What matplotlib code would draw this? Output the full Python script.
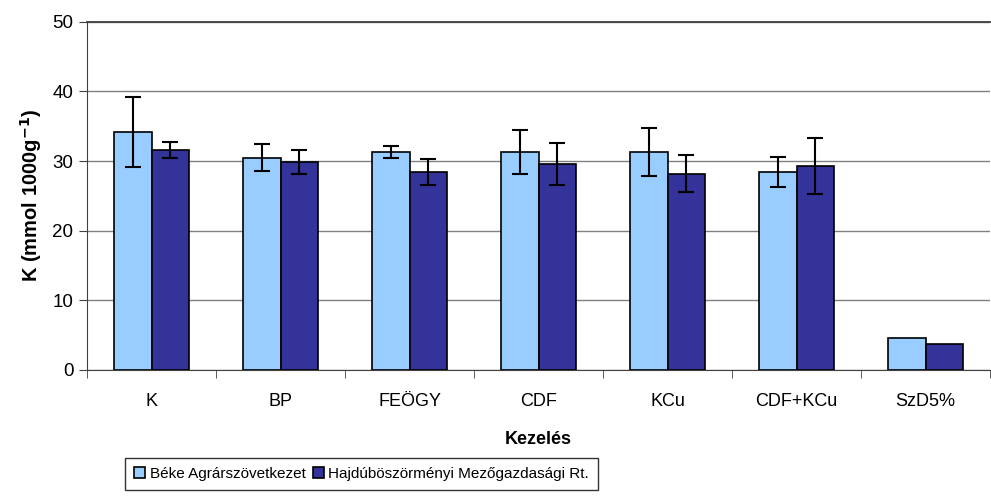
import matplotlib.pyplot as plt
import numpy as np

plt.rcParams['font.family'] = ['Liberation Sans', 'DejaVu Sans']

categories = ['K', 'BP', 'FEÖGY', 'CDF', 'KCu', 'CDF+KCu', 'SzD5%']
beke = [34.2, 30.5, 31.3, 31.3, 31.3, 28.4, 4.6]
beke_err = [5.0, 1.9, 0.85, 3.15, 3.45, 2.15, None]
hajdu = [31.6, 29.9, 28.4, 29.6, 28.2, 29.3, 3.7]
hajdu_err = [1.15, 1.7, 1.9, 3.05, 2.6, 4.05, None]
series_names = ['Béke Agrárszövetkezet', 'Hajdúböszörményi Mezőgazdasági Rt.']

fig = plt.figure(figsize=(9.91, 4.97), dpi=100)
ax = fig.add_axes([0.088, 0.256, 0.911, 0.7])

x = np.arange(len(categories))
w = 0.29
ax.bar(x - w / 2, beke, w, color='#99CCFF', edgecolor='black', linewidth=1.2,
       label=series_names[0], zorder=3)
ax.bar(x + w / 2, hajdu, w, color='#333399', edgecolor='black', linewidth=1.2,
       label=series_names[1], zorder=3)

for xs, vals, errs in [(x - w / 2, beke, beke_err), (x + w / 2, hajdu, hajdu_err)]:
    for xi, v, e in zip(xs, vals, errs):
        if e is None:
            continue
        ax.errorbar(xi, v, yerr=e, fmt='none', ecolor='black',
                    elinewidth=1.5, capsize=6, capthick=1.5, zorder=4)

ax.set_xlim(-0.5, len(categories) - 0.5)
ax.set_ylim(0, 50)
ax.set_yticks([0, 10, 20, 30, 40, 50])
ax.yaxis.grid(True, color='#808080', linewidth=1)
ax.set_axisbelow(True)
ax.spines['right'].set_visible(False)
ax.spines['top'].set_color('#404040')
ax.spines['top'].set_linewidth(1.3)
ax.spines['left'].set_color('#404040')
ax.spines['bottom'].set_color('#404040')

ax.set_xticks(x)
ax.set_xticklabels(categories)
ax.set_xticks(np.arange(len(categories) + 1) - 0.5, minor=True)
ax.tick_params(axis='x', which='major', length=0, pad=17, labelsize=13)
ax.tick_params(axis='x', which='minor', length=6, color='#404040')
ax.tick_params(axis='y', length=6, color='#404040', labelsize=13.5, pad=4)

ax.set_xlabel('Kezelés', fontsize=13, fontweight='bold', labelpad=15)
ax.set_ylabel('K (mmol 1000g$^{\\mathbf{-1}}$)', fontsize=14.5,
              fontweight='bold', labelpad=6)

leg = fig.legend(loc='upper center', bbox_to_anchor=(0.365, 0.094), ncol=2,
                 frameon=True, fancybox=False, edgecolor='black',
                 fontsize=11, handlelength=0.7, handleheight=0.7,
                 handletextpad=0.3, columnspacing=0.5, borderpad=0.6)
leg.get_frame().set_linewidth(1)

fig.savefig('out.png', dpi=100)
